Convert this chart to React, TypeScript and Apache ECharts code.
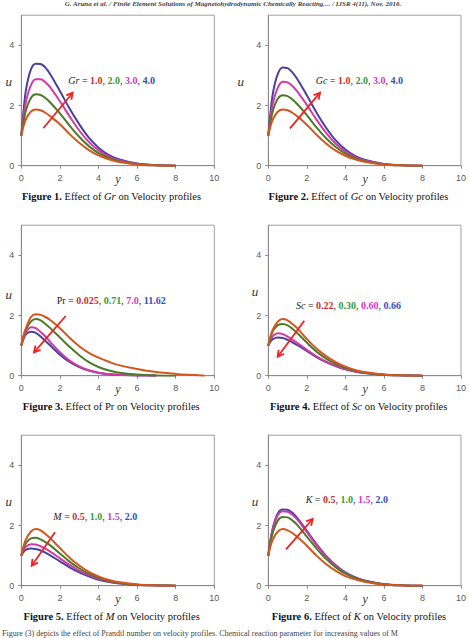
import React, { useEffect, useRef } from "react";
import * as echarts from "echarts";

// distance from the plate, shared by every profile
const yPos = [0, 0.1, 0.25, 0.5, 0.75, 1, 1.25, 1.5, 2, 2.5, 3, 3.5, 4, 4.5, 5, 6, 7, 8, 9, 9.5];

// Figure 1: Grashof number Gr = 1, 2, 3, 4
const grLabels = ["1.0", "2.0", "3.0", "4.0"];
const grU1 = [1, 1.28, 1.56, 1.8, 1.87, 1.84, 1.76, 1.64, 1.38, 1.05, 0.76, 0.52, 0.34, 0.22, 0.13, 0.04, 0.01, 0];
const grU2 = [1, 1.4, 1.86, 2.25, 2.37, 2.35, 2.25, 2.1, 1.74, 1.33, 0.96, 0.65, 0.42, 0.27, 0.16, 0.05, 0.01, 0];
const grU3 = [1, 1.55, 2.15, 2.68, 2.87, 2.87, 2.77, 2.6, 2.14, 1.64, 1.17, 0.79, 0.51, 0.32, 0.19, 0.06, 0.015, 0];
const grU4 = [1, 1.72, 2.55, 3.2, 3.39, 3.38, 3.26, 3.04, 2.48, 1.9, 1.38, 0.93, 0.6, 0.37, 0.22, 0.07, 0.02, 0];

// Figure 2: modified Grashof number Gc = 1, 2, 3, 4
const gcLabels = ["1.0", "2.0", "3.0", "4.0"];
const gcU1 = [1, 1.28, 1.56, 1.8, 1.87, 1.84, 1.76, 1.64, 1.36, 1.03, 0.74, 0.5, 0.33, 0.21, 0.13, 0.04, 0.01, 0];
const gcU2 = [1, 1.4, 1.85, 2.23, 2.34, 2.31, 2.2, 2.05, 1.68, 1.27, 0.91, 0.62, 0.4, 0.25, 0.15, 0.05, 0.01, 0];
const gcU3 = [1, 1.53, 2.1, 2.6, 2.79, 2.77, 2.65, 2.47, 2.02, 1.53, 1.09, 0.73, 0.47, 0.29, 0.17, 0.05, 0.01, 0];
const gcU4 = [1, 1.68, 2.45, 3.06, 3.26, 3.24, 3.1, 2.88, 2.34, 1.77, 1.26, 0.84, 0.54, 0.33, 0.2, 0.06, 0.015, 0];

// Figure 3: Prandtl number Pr
const prLabels = ["0.025", "0.71", "7.0", "11.62"];
const prU1 = [1, 1.3, 1.6, 1.95, 2.04, 2.02, 1.95, 1.85, 1.58, 1.26, 0.98, 0.76, 0.6, 0.47, 0.36, 0.22, 0.12, 0.06, 0.02, 0];
const prU2 = [1, 1.28, 1.55, 1.8, 1.88, 1.84, 1.72, 1.58, 1.27, 0.96, 0.68, 0.45, 0.29, 0.18, 0.11, 0.04, 0.01, 0];
const prU3 = [1, 1.22, 1.45, 1.61, 1.58, 1.45, 1.3, 1.12, 0.78, 0.5, 0.31, 0.18, 0.1, 0.06, 0.03, 0.01, 0];
const prU4 = [1, 1.19, 1.38, 1.46, 1.42, 1.3, 1.15, 1.0, 0.7, 0.46, 0.29, 0.17, 0.1, 0.05, 0.03, 0.01, 0];

// Figure 4: Schmidt number Sc
const scLabels = ["0.22", "0.30", "0.60", "0.66"];
const scU1 = [1, 1.28, 1.55, 1.8, 1.88, 1.84, 1.72, 1.58, 1.22, 0.9, 0.65, 0.45, 0.3, 0.19, 0.12, 0.04, 0.01, 0];
const scU2 = [1, 1.25, 1.5, 1.68, 1.72, 1.67, 1.56, 1.42, 1.1, 0.8, 0.57, 0.39, 0.26, 0.17, 0.1, 0.03, 0.01, 0];
const scU3 = [1, 1.18, 1.33, 1.41, 1.38, 1.3, 1.2, 1.09, 0.86, 0.64, 0.47, 0.33, 0.22, 0.14, 0.09, 0.03, 0.01, 0];
const scU4 = [1, 1.12, 1.22, 1.27, 1.25, 1.19, 1.11, 1.02, 0.82, 0.62, 0.45, 0.32, 0.21, 0.14, 0.09, 0.03, 0.01, 0];

// Figure 5: magnetic parameter M
const mLabels = ["0.5", "1.0", "1.5", "2.0"];
const mU1 = [1, 1.28, 1.55, 1.8, 1.88, 1.84, 1.72, 1.58, 1.25, 0.93, 0.67, 0.46, 0.31, 0.2, 0.12, 0.04, 0.01, 0];
const mU2 = [1, 1.22, 1.42, 1.57, 1.59, 1.54, 1.45, 1.34, 1.07, 0.8, 0.58, 0.4, 0.27, 0.17, 0.1, 0.03, 0.01, 0];
const mU3 = [1, 1.16, 1.3, 1.38, 1.37, 1.31, 1.23, 1.13, 0.91, 0.69, 0.5, 0.35, 0.23, 0.15, 0.09, 0.03, 0.01, 0];
const mU4 = [1, 1.11, 1.2, 1.24, 1.22, 1.17, 1.1, 1.01, 0.81, 0.61, 0.44, 0.31, 0.2, 0.13, 0.08, 0.02, 0.01, 0];

// Figure 6: permeability parameter K
const kLabels = ["0.5", "1.0", "1.5", "2.0"];
const kU1 = [1, 1.28, 1.56, 1.8, 1.88, 1.84, 1.75, 1.62, 1.33, 1.0, 0.72, 0.49, 0.32, 0.21, 0.13, 0.04, 0.01, 0];
const kU2 = [1, 1.38, 1.8, 2.17, 2.28, 2.27, 2.17, 2.02, 1.63, 1.24, 0.89, 0.61, 0.4, 0.25, 0.15, 0.05, 0.01, 0];
const kU3 = [1, 1.45, 1.92, 2.35, 2.47, 2.46, 2.36, 2.2, 1.78, 1.35, 0.97, 0.66, 0.43, 0.27, 0.16, 0.05, 0.01, 0];
const kU4 = [1, 1.47, 1.96, 2.41, 2.53, 2.52, 2.42, 2.25, 1.82, 1.38, 0.99, 0.68, 0.44, 0.28, 0.17, 0.05, 0.01, 0];

// axis ticks
const xTicks = { min: 0, max: 10, interval: 2 };
const yTicks = { min: 0, max: 5, interval: 2 };

const lineColors = ["#d4561c", "#4b7b27", "#d23aa8", "#4b409c"];
const labelColors = ["#c9302c", "#2e9c3a", "#d136c6", "#2f4fc2"];

const SERIF = "'Liberation Serif', 'Times New Roman', serif";
const SANS = "'Liberation Sans', Arial, sans-serif";

const panels = [
  { fig: 1, param: "Gr", italic: true, labels: grLabels, curves: [grU1, grU2, grU3, grU4] },
  { fig: 2, param: "Gc", italic: true, labels: gcLabels, curves: [gcU1, gcU2, gcU3, gcU4] },
  { fig: 3, param: "Pr", italic: false, labels: prLabels, curves: [prU1, prU2, prU3, prU4] },
  { fig: 4, param: "Sc", italic: true, labels: scLabels, curves: [scU1, scU2, scU3, scU4] },
  { fig: 5, param: "M", italic: true, labels: mLabels, curves: [mU1, mU2, mU3, mU4] },
  { fig: 6, param: "K", italic: true, labels: kLabels, curves: [kU1, kU2, kU3, kU4] },
];

// page layout of each panel
const layout = [
  { left: 21.3, top: 15.2, width: 193, uX: 8.8, uY: 81, tx: 68.3, ty: 80, arrow: [43.3, 128.3, 72.7, 92.7], capX: 111.5, capY: 196.7 },
  { left: 268.3, top: 15.2, width: 193.7, uX: 240.8, uY: 81, tx: 315.7, ty: 80, arrow: [290, 128.3, 320, 92.7], capX: 358.5, capY: 196.7 },
  { left: 21.3, top: 225.2, width: 193, uX: 8.8, uY: 294, tx: 56.7, ty: 300.3, arrow: [65.7, 316, 34, 352.3], capX: 111.3, capY: 406.7 },
  { left: 268.3, top: 225.2, width: 193.7, uX: 255, uY: 291.7, tx: 296, ty: 305.7, arrow: [304.3, 320.7, 277.7, 356.7], capX: 358.7, capY: 406.7 },
  { left: 21.3, top: 435.2, width: 193, uX: 8.8, uY: 501.7, tx: 53.3, ty: 516.7, arrow: [55, 532.3, 31.7, 565.7], capX: 111.7, capY: 616.7 },
  { left: 268.3, top: 435.2, width: 193.7, uX: 255, uY: 501.7, tx: 305.7, ty: 499.3, arrow: [286, 549.3, 312.7, 519], capX: 359, capY: 616.7 },
];
const PLOT_H = 150.5;

function arrowElements(a: number[]) {
  const [x1, y1, x2, y2] = a;
  const ang = Math.atan2(y2 - y1, x2 - x1);
  const L = 7;
  const spread = 0.5;
  const style = { stroke: "#ee2222", lineWidth: 1.8, fill: null as any };
  return [
    { type: "line", shape: { x1, y1, x2, y2 }, style },
    {
      type: "polyline",
      shape: {
        points: [
          [x2 - L * Math.cos(ang - spread), y2 - L * Math.sin(ang - spread)],
          [x2, y2],
          [x2 - L * Math.cos(ang + spread), y2 - L * Math.sin(ang + spread)],
        ],
      },
      style,
    },
  ];
}

function buildOption() {
  const grid: any[] = [];
  const xAxis: any[] = [];
  const yAxis: any[] = [];
  const series: any[] = [];
  const graphic: any[] = [];

  panels.forEach((p, i) => {
    const g = layout[i];
    grid.push({
      left: g.left,
      top: g.top,
      width: g.width,
      height: PLOT_H,
      show: true,
      borderColor: "#a0a0a0",
      borderWidth: 1,
      backgroundColor: "#fff",
    });
    xAxis.push({
      type: "value",
      gridIndex: i,
      ...xTicks,
      axisLine: { show: true, lineStyle: { color: "#8a8a8a", width: 1 } },
      axisTick: { show: true, length: 3, lineStyle: { color: "#8a8a8a" } },
      axisLabel: { color: "#5a5a5a", fontSize: 9, fontFamily: SANS, margin: 8 },
      splitLine: { show: false },
    });
    yAxis.push({
      type: "value",
      gridIndex: i,
      ...yTicks,
      axisLine: { show: true, lineStyle: { color: "#8a8a8a", width: 1 } },
      axisTick: { show: true, length: 3, lineStyle: { color: "#8a8a8a" } },
      axisLabel: { color: "#5a5a5a", fontSize: 9, fontFamily: SANS, margin: 7, showMaxLabel: false },
      splitLine: { show: false },
    });

    // blue first so the lower curves sit on top
    [3, 2, 1, 0].forEach((k) => {
      series.push({
        type: "line",
        name: `${p.param} = ${p.labels[k]}`,
        xAxisIndex: i,
        yAxisIndex: i,
        data: p.curves[k].map((v, j) => [yPos[j], v]),
        showSymbol: false,
        smooth: 0.35,
        lineStyle: { color: lineColors[k], width: 2 },
        itemStyle: { color: lineColors[k] },
        z: 3 + (3 - k),
      });
    });

    // parameter annotation, e.g. "Gr = 1.0, 2.0, 3.0, 4.0"
    const txt =
      `{p|${p.param}} = ` + p.labels.map((l, k) => `{c${k}|${l}}`).join(", ");
    const rich: any = {
      p: { fontFamily: SERIF, fontStyle: p.italic ? "italic" : "normal", fontSize: 10, fill: "#222" },
    };
    p.labels.forEach((_, k) => {
      rich["c" + k] = { fontFamily: SERIF, fontWeight: "bold", fontSize: 10, fill: labelColors[k] };
    });
    graphic.push({
      type: "text",
      x: g.tx,
      y: g.ty,
      style: {
        text: txt,
        rich,
        fontFamily: SERIF,
        fontSize: 10,
        fill: "#222",
        align: "left",
        verticalAlign: "middle",
      },
      z: 20,
    });

    graphic.push(...arrowElements(g.arrow).map((e) => ({ ...e, z: 21 })));

    // axis names: u (vertical) and y (horizontal, between tick labels 4 and 6)
    graphic.push({
      type: "text",
      x: g.uX,
      y: g.uY,
      style: {
        text: "u",
        fontFamily: SERIF,
        fontStyle: "italic",
        fontSize: 13,
        fill: "#333",
        align: "center",
        verticalAlign: "middle",
      },
    });
    graphic.push({
      type: "text",
      x: g.left + g.width / 2,
      y: g.top + PLOT_H + 13.5,
      style: {
        text: "y",
        fontFamily: SERIF,
        fontStyle: "italic",
        fontSize: 12,
        fill: "#333",
        align: "center",
        verticalAlign: "middle",
      },
    });

    // caption
    graphic.push({
      type: "text",
      x: g.capX,
      y: g.capY,
      style: {
        text: `{b|Figure ${p.fig}.} Effect of {${p.italic ? "i" : "n"}|${p.param}} on Velocity profiles`,
        rich: {
          b: { fontFamily: SERIF, fontWeight: "bold", fontSize: 10.5, fill: "#111" },
          i: { fontFamily: SERIF, fontStyle: "italic", fontSize: 10.5, fill: "#111" },
          n: { fontFamily: SERIF, fontSize: 10.5, fill: "#111" },
        },
        fontFamily: SERIF,
        fontSize: 10.5,
        fill: "#111",
        align: "center",
        verticalAlign: "middle",
      },
    });
  });

  // running head and body text at the page edges
  graphic.push({
    type: "text",
    x: 233,
    y: 4,
    style: {
      text: "G. Aruna et al. / Finite Element Solutions of Magnetohydrodynamic Chemically Reacting.... / IJSR 4(11), Nov. 2016.",
      fontFamily: SERIF,
      fontStyle: "italic",
      fontWeight: "bold",
      fontSize: 7,
      fill: "#444",
      align: "center",
      verticalAlign: "middle",
    },
  });
  graphic.push({
    type: "text",
    x: 2,
    y: 633,
    style: {
      text: "Figure (3) depicts the effect of Prandtl number on velocity profiles. Chemical reaction parameter for increasing values of M",
      fontFamily: SERIF,
      fontSize: 8,
      fill: "#444",
      align: "left",
      verticalAlign: "middle",
    },
  });

  return {
    animation: false,
    backgroundColor: "#ffffff",
    grid,
    xAxis,
    yAxis,
    series,
    graphic,
  };
}

export default function App() {
  const ref = useRef<HTMLDivElement>(null);
  useEffect(() => {
    if (!ref.current) return;
    const chart = echarts.init(ref.current, undefined, { renderer: "svg" });
    chart.setOption(buildOption() as any);
    return () => chart.dispose();
  }, []);
  return (
    <div
      ref={ref}
      style={{ position: "absolute", left: 0, top: 0, width: 469, height: 638, background: "#fff" }}
    />
  );
}
